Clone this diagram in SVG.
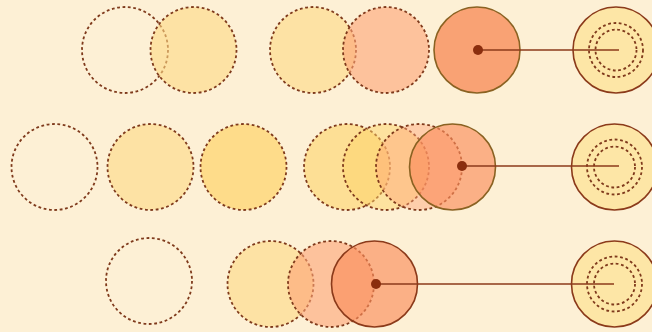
<svg xmlns="http://www.w3.org/2000/svg" width="652" height="332" viewBox="0 0 652 332">
<style>
.d{stroke:#7f3a1c;stroke-width:1.8;stroke-dasharray:2.8 2.6}
.e{fill:none}
.y{fill:#fdd983;fill-opacity:0.6}
.y2{fill:#fdd36a;fill-opacity:0.75}
.p{fill:#fea477;fill-opacity:0.6}
.s{stroke:#8a6222;stroke-width:1.6}
.s2{stroke:#8b3a1a;stroke-width:1.6}
.o{fill:#fb8d5c;fill-opacity:0.7}
.t{fill:#fde6a6;stroke:#8b3a1a;stroke-width:1.6}
.i{fill:none;stroke:#7f3a1c;stroke-width:1.8;stroke-dasharray:2.8 2.6}
.l{stroke:#8b3a1a;stroke-width:1.6}
.dot{fill:#8b2e0e}
</style>
<rect width="652" height="332" fill="#fdf0d5"/>
<g id="row1">
<g id="r1a"><circle cx="125" cy="50" r="43" class="d e"/></g>
<g id="r1b"><circle cx="193.5" cy="50" r="43" class="d y"/></g>
<g id="r1c"><circle cx="313" cy="50" r="43" class="d y"/></g>
<g id="r1d"><circle cx="386" cy="50" r="43" class="d p"/></g>
<g id="r1e"><circle cx="477" cy="50" r="43" class="s o" style="fill:#f9a274;fill-opacity:1"/></g>
<g id="r1f"><circle cx="616" cy="50" r="43" class="t"/><circle cx="616" cy="50" r="27" class="i"/><circle cx="616" cy="50" r="20.5" class="i"/></g>
</g>
<g id="row2">
<g id="r2a"><circle cx="54.5" cy="167" r="43" class="d e"/></g>
<g id="r2b"><circle cx="150.5" cy="167" r="43" class="d y"/></g>
<g id="r2c"><circle cx="243.5" cy="167" r="43" class="d y2" style="fill-opacity:0.7"/></g>
<g id="r2d"><circle cx="347" cy="167" r="43" class="d y2" style="fill-opacity:0.6"/></g>
<g id="r2e"><circle cx="386" cy="167" r="43" class="d y2" style="fill-opacity:0.5"/></g>
<g id="r2f"><circle cx="419" cy="167" r="43" class="d p" style="fill-opacity:0.45"/></g>
<g id="r2g"><circle cx="452.5" cy="167" r="43" class="s o" style="fill-opacity:0.65"/></g>
<g id="r2h"><circle cx="614.5" cy="167" r="43" class="t"/><circle cx="614.5" cy="167" r="27.5" class="i"/><circle cx="614.5" cy="167" r="20.5" class="i"/></g>
</g>
<g id="row3">
<g id="r3a"><circle cx="149" cy="281" r="43" class="d e"/></g>
<g id="r3b"><circle cx="270.5" cy="284" r="43" class="d y"/></g>
<g id="r3c"><circle cx="331" cy="284" r="43" class="d p"/></g>
<g id="r3d"><circle cx="374.5" cy="284" r="43" class="s2 o" style="fill-opacity:0.65"/></g>
<g id="r3e"><circle cx="614.5" cy="284" r="43" class="t"/><circle cx="614.5" cy="284" r="27.5" class="i"/><circle cx="614.5" cy="284" r="20.5" class="i"/></g>
</g>
<g id="connectors">
<line x1="478" y1="50" x2="619" y2="50" class="l"/>
<line x1="462" y1="166" x2="619" y2="166" class="l"/>
<line x1="376" y1="284" x2="614" y2="284" class="l"/>
<circle cx="478" cy="50" r="5" class="dot"/>
<circle cx="462" cy="166" r="5" class="dot"/>
<circle cx="376" cy="284" r="5" class="dot"/>
</g>
</svg>
